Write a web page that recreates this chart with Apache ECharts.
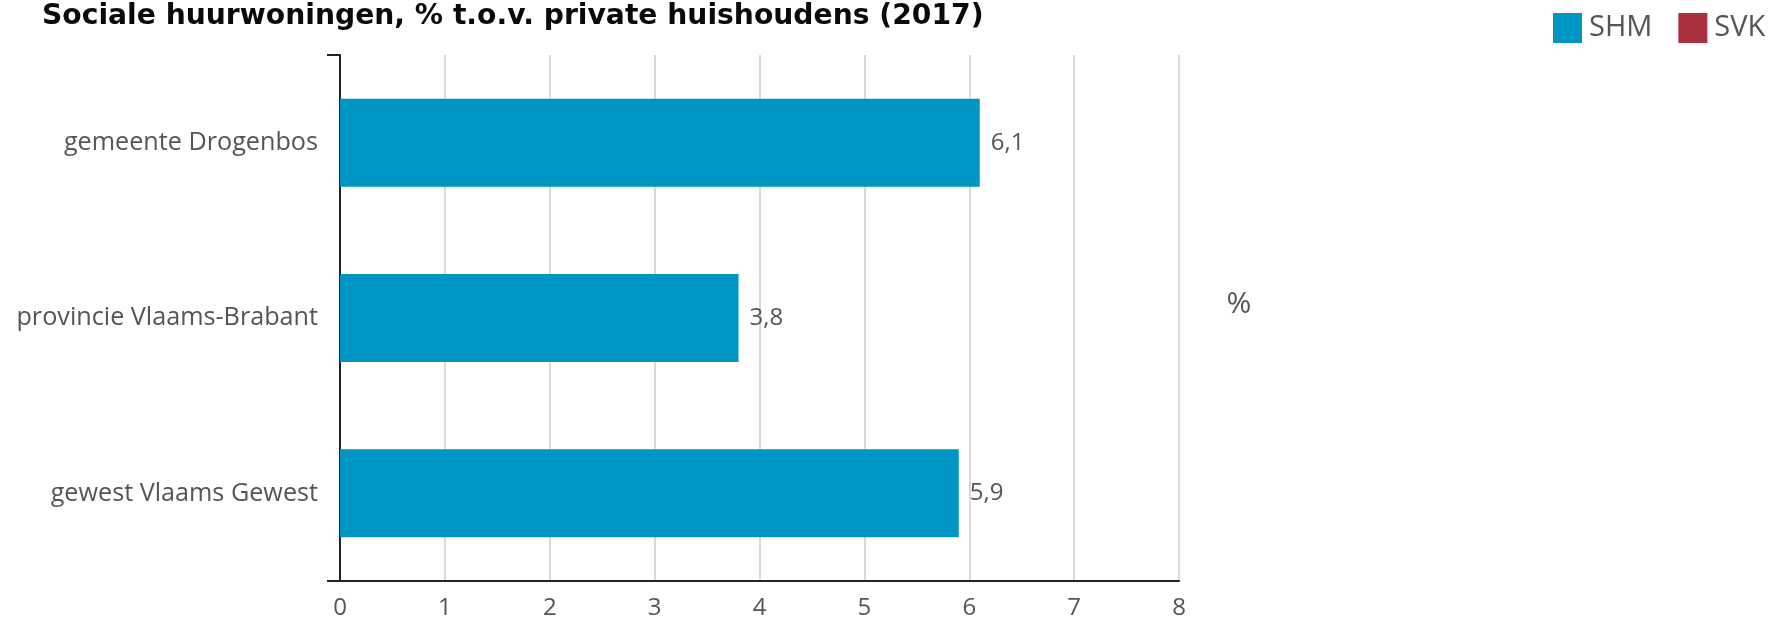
<!DOCTYPE html>
<html>
<head>
<meta charset="utf-8">
<script src="https://cdn.jsdelivr.net/npm/echarts@6/dist/echarts.min.js"></script>
<style>
html,body{margin:0;padding:0;background:#fff;}
#chart{width:1771px;height:622px;}
</style>
</head>
<body>
<div id="chart"></div>
<script>
const title = 'Sociale huurwoningen, % t.o.v. private huishoudens (2017)';
const categories = ['gemeente Drogenbos', 'provincie Vlaams-Brabant', 'gewest Vlaams Gewest'];
const shmValues = [6.1, 3.8, 5.9];
const svkValues = [null, null, null];
const seriesNames = ['SHM', 'SVK'];
const xTicks = [0, 1, 2, 3, 4, 5, 6, 7, 8];
const unitLabel = '%';

const FONT = '"Open Sans", "Noto Sans", sans-serif';
const chart = echarts.init(document.getElementById('chart'), null, {renderer: 'canvas'});
const fmt = v => (v == null ? '' : v.toFixed(1).replace('.', ','));

chart.setOption({
  animation: false,
  backgroundColor: '#ffffff',
  title: {
    text: title,
    left: 37,
    top: -2,
    textStyle: {fontFamily: '"DejaVu Sans", sans-serif', fontWeight: 'bold', fontSize: 28.2, color: '#0a0a0a'}
  },
  legend: {
    data: seriesNames,
    left: 1553,
    top: 13,
    padding: 0,
    itemWidth: 29,
    itemHeight: 30,
    itemGap: 26,
    icon: 'rect',
    textStyle: {fontFamily: FONT, fontSize: 29, color: '#555', padding: [0, 0, 0, 2]}
  },
  grid: {left: 340, right: 592, top: 55, bottom: 41, containLabel: false},
  xAxis: {
    type: 'value',
    min: xTicks[0],
    max: xTicks[xTicks.length - 1],
    interval: 1,
    axisLine: {show: true, lineStyle: {color: '#222', width: 2}},
    axisTick: {show: false},
    splitLine: {show: true, lineStyle: {color: '#d9d9d9', width: 2}},
    axisLabel: {fontFamily: FONT, fontSize: 24, color: '#555', margin: 15}
  },
  yAxis: {
    type: 'category',
    inverse: true,
    data: categories,
    axisLine: {show: true, lineStyle: {color: '#222', width: 2}},
    axisTick: {show: false},
    axisLabel: {fontFamily: FONT, fontSize: 25.2, color: '#555', margin: 22}
  },
  series: [
    {
      name: seriesNames[0],
      type: 'bar',
      stack: 'total',
      data: shmValues,
      barWidth: 88,
      itemStyle: {color: '#0096c3'},
      label: {show: true, position: 'right', distance: 11, fontFamily: FONT, fontSize: 24, color: '#555',
        formatter: p => fmt(p.value)}
    },
    {
      name: seriesNames[1],
      type: 'bar',
      stack: 'total',
      data: svkValues,
      barWidth: 88,
      itemStyle: {color: '#a8303f'}
    }
  ]
});

// axis end ticks and unit label
const rect = chart.getModel().getComponent('grid').coordinateSystem.getRect();
chart.setOption({
  graphic: [
    {type: 'line', shape: {x1: rect.x - 13, y1: rect.y, x2: rect.x, y2: rect.y}, style: {stroke: '#222', lineWidth: 2}},
    {type: 'line', shape: {x1: rect.x - 13, y1: rect.y + rect.height, x2: rect.x, y2: rect.y + rect.height}, style: {stroke: '#222', lineWidth: 2}},
    {type: 'text', x: 1239, y: 304, style: {text: unitLabel, fontFamily: FONT, fontSize: 30, fill: '#555', align: 'center', verticalAlign: 'middle'}}
  ]
});
</script>
</body>
</html>
